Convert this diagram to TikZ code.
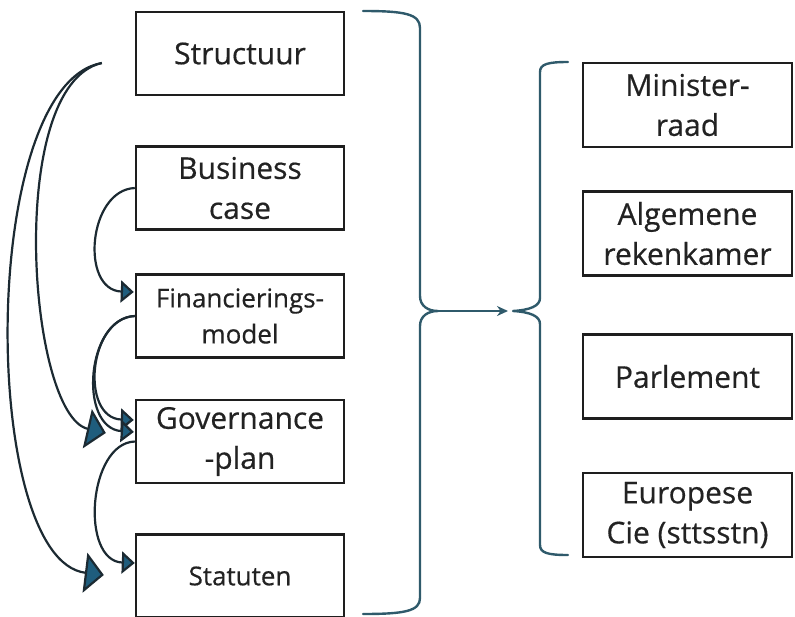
\documentclass[tikz,border=0pt]{standalone}
\usepackage{fontspec}
\setmainfont{Open Sans}[FakeBold=0.5]
\usetikzlibrary{arrows.meta,calc}
\definecolor{boxline}{HTML}{1E1E1E}
\definecolor{bracecol}{HTML}{2F5A6B}
\definecolor{arrowline}{HTML}{1C2A32}
\definecolor{headfill}{HTML}{1F5D7D}
\definecolor{txt}{HTML}{222222}
\begin{document}
\begin{tikzpicture}[x=1pt,y=-1pt,
  stepbox/.style={draw=boxline,line width=2.4pt,minimum width=208pt,minimum height=83pt,inner sep=0pt,align=center,font=\fontsize{30}{40}\selectfont,text=txt},
  smalltext/.style={font=\fontsize{26}{36}\selectfont},
  brace/.style={draw=bracecol,line width=2.4pt,line cap=round,line join=round},
  link/.style={draw=arrowline,line width=2.2pt},
  bighead/.style={-{Triangle[length=19pt,width=40pt,fill=headfill]}},
  smallhead/.style={-{Triangle[length=13pt,width=22pt,fill=headfill]}}
]
\useasboundingbox (0,0) rectangle (795,616);
% left column
\node[stepbox] (str) at (240,53.5) {Structuur};
\node[stepbox] (bus) at (240,188) {Business\\case};
\node[stepbox,smalltext] (fin) at (240,316) {Financierings-\\model};
\node[stepbox] (gov) at (240,441.5) {Governance\\-plan};
\node[stepbox,smalltext] (sta) at (240,576) {Statuten};
% right column
\node[stepbox,minimum width=209pt,minimum height=84pt] (min) at (687.5,105) {Minister-\\raad};
\node[stepbox,minimum width=209pt,minimum height=84pt] (alg) at (687.5,233.5) {Algemene\\rekenkamer};
\node[stepbox,minimum width=209pt,minimum height=84pt] (par) at (687.5,376.5) {Parlement};
\node[stepbox,minimum width=209pt,minimum height=84pt] (eur) at (687.5,515) {Europese\\Cie (sttsstn)};
% braces
\coordinate (ltip) at (438,311);
\coordinate (rtip) at (508,311);
\draw[brace] (363,11) .. controls (405,11) and (420,14) .. (420,28) -- (420,296)
  .. controls (420,306) and (428,311) .. (ltip)
  .. controls (428,311) and (420,316) .. (420,326) -- (420,598)
  .. controls (420,611) and (405,614) .. (363,614);
\draw[brace] (568,62) .. controls (548,62) and (540,64) .. (540,72) -- (540,298)
  .. controls (540,306) and (530,310) .. (513,311)
  .. controls (530,312) and (540,316) .. (540,324) -- (540,545)
  .. controls (540,553) and (548,555) .. (568,555);
\draw[brace,-{Stealth[length=11pt,width=10pt]}] (ltip) -- (rtip);
% left connectors
\coordinate (s0) at ($(str.west)+(-33,9.5)$);
\coordinate (gA) at ($(gov.west)+(-29,-8.5)$);
\coordinate (sB) at ($(sta.west)+(-31,-1)$);
\coordinate (fA) at ($(fin.west)+(-1,-24)$);
\coordinate (gB) at ($(gov.west)+(-1,-21.5)$);
\coordinate (gC) at ($(gov.west)+(-1,-9.5)$);
\coordinate (sC) at ($(sta.west)+(0,-13)$);
\draw[link,bighead] (s0) .. controls (5,85) and (28,415) .. (gA);
\draw[link,bighead] (s0) .. controls (-22,85) and (-20,560) .. (sB);
\draw[link,smallhead] (bus.west) .. controls (88,190) and (80,290) .. (fA);
\draw[link,smallhead] (fin.west) .. controls (88,318) and (80,418) .. (gB);
\draw[link,smallhead] (fin.west) .. controls (86,318) and (78,428) .. (gC);
\draw[link,smallhead] (gov.west) .. controls (88,443) and (80,561) .. (sC);
\end{tikzpicture}
\end{document}
